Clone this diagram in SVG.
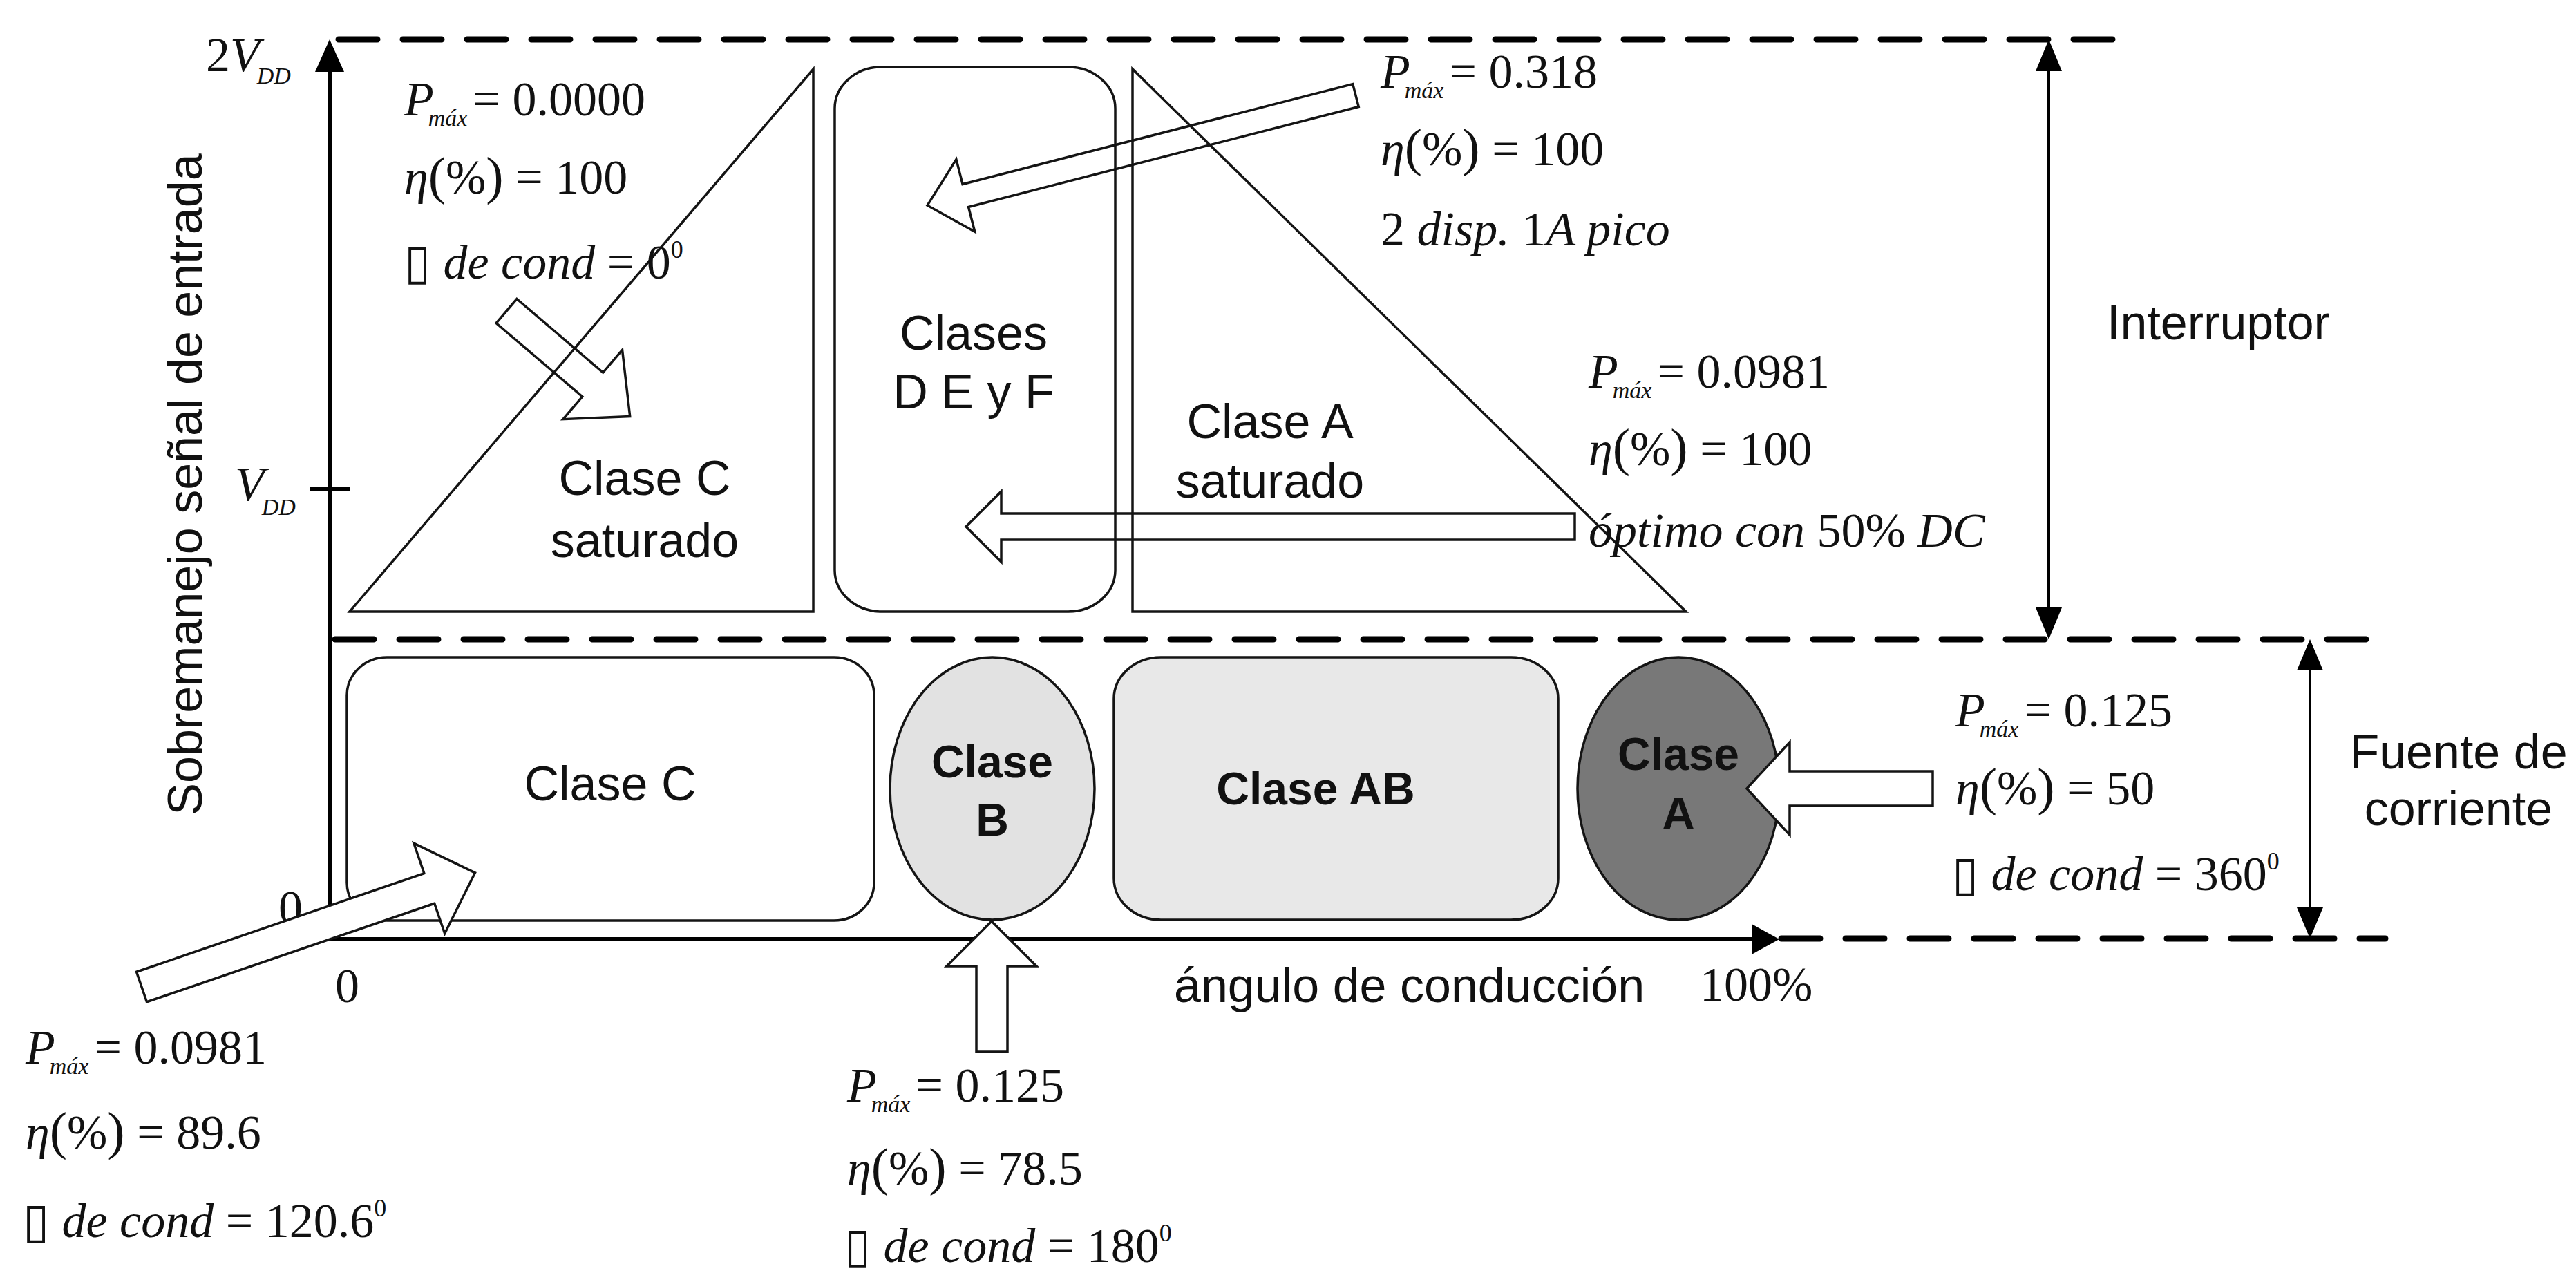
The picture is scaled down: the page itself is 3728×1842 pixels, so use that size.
<svg xmlns="http://www.w3.org/2000/svg" width="3728" height="1842" viewBox="0 0 3728 1842">
<style>
.bg{fill:#ffffff}
.open{fill:none;stroke:#141414;stroke-width:3.5;stroke-linejoin:miter}
.barrow{fill:#ffffff;stroke:#141414;stroke-width:3.5;stroke-linejoin:miter}
.tarrow{fill:none;stroke:#141414;stroke-width:3.5;stroke-linejoin:miter}
.axis{fill:none;stroke:#000;stroke-width:6}
.dash{fill:none;stroke:#000;stroke-width:9;stroke-dasharray:56 37;stroke-linecap:round}
.thin{fill:none;stroke:#000;stroke-width:4}
.head{fill:#000;stroke:none}
.lbl{font-family:"Liberation Sans",Arial,sans-serif;font-size:70px;fill:#111}
.lblb{font-family:"Liberation Sans",Arial,sans-serif;font-size:66px;font-weight:bold;fill:#111}
.m{font-family:"Liberation Serif","Times New Roman",serif;font-size:70px;fill:#111}
.i{font-style:italic}
.sub{font-size:34px;font-style:italic}
.sup{font-size:36px}
.par{font-size:76px}
.box{font-family:"DejaVu Sans",sans-serif;font-size:70px}
</style>
<rect class="bg" x="0" y="0" width="3728" height="1842"/>

<g id="guides">
<line class="dash" x1="490" y1="57" x2="3061" y2="57"/>
<line class="dash" x1="485" y1="925" x2="3443" y2="925"/>
<line class="dash" x1="2578" y1="1358" x2="3452" y2="1358"/>
</g>

<g id="node-clase-c-saturado">
<polygon class="open" points="506,885 1177,100 1177,885"/>
<text class="lbl" x="933" y="716" text-anchor="middle">Clase C</text>
<text class="lbl" x="933" y="806" text-anchor="middle">saturado</text>
</g>

<g id="node-clases-def">
<rect class="open" x="1208" y="97" width="406" height="788" rx="68" ry="60"/>
<text class="lbl" x="1409" y="506" text-anchor="middle">Clases</text>
<text class="lbl" x="1409" y="591" text-anchor="middle">D E y F</text>
</g>

<g id="node-clase-a-saturado">
<polygon class="open" points="1639,100 1639,885 2440,885"/>
<text class="lbl" x="1838" y="634" text-anchor="middle">Clase A</text>
<text class="lbl" x="1838" y="720" text-anchor="middle">saturado</text>
</g>

<g id="node-clase-c">
<rect class="open" x="502" y="951" width="763" height="381" rx="58" ry="55"/>
<text class="lbl" x="883" y="1158" text-anchor="middle">Clase C</text>
</g>

<g id="node-clase-b">
<ellipse cx="1436" cy="1141" rx="148" ry="190" fill="#e2e2e2" stroke="#141414" stroke-width="3.5"/>
<text class="lblb" x="1436" y="1125" text-anchor="middle">Clase</text>
<text class="lblb" x="1436" y="1209" text-anchor="middle">B</text>
</g>

<g id="node-clase-ab">
<rect x="1612" y="951" width="643" height="380" rx="68" ry="60" fill="#e8e8e8" stroke="#141414" stroke-width="3.5"/>
<text class="lblb" x="1904" y="1164" text-anchor="middle">Clase AB</text>
</g>

<g id="node-clase-a">
<ellipse cx="2429" cy="1141" rx="146" ry="190" fill="#787878" stroke="#141414" stroke-width="3.5"/>
<text class="lblb" x="2429" y="1114" text-anchor="middle">Clase</text>
<text class="lblb" x="2429" y="1200" text-anchor="middle">A</text>
</g>

<g id="axes">
<line class="axis" x1="477" y1="95" x2="477" y2="1362"/>
<polygon class="head" points="477,57 456,104 498,104"/>
<line class="axis" x1="448" y1="708" x2="506" y2="708"/>
<line class="axis" x1="474" y1="1359" x2="2545" y2="1359"/>
<polygon class="head" points="2575,1359 2535,1337 2535,1381"/>
<text class="lbl" transform="translate(292,701) rotate(-90)" text-anchor="middle" font-size="71">Sobremanejo señal de entrada</text>
<text class="lbl" x="1699" y="1450">ángulo de conducción</text>
<text class="m" x="298" y="103">2<tspan class="i">V</tspan><tspan class="sub" dx="-4" dy="18">DD</tspan></text>
<text class="m" x="340" y="724"><tspan class="i">V</tspan><tspan class="sub" dx="-4" dy="21">DD</tspan></text>
<text class="m" x="403" y="1337">0</text>
<text class="m" x="485" y="1450">0</text>
<text class="m" x="2460" y="1448">100%</text>
</g>

<g id="ranges">
<line class="thin" x1="2965" y1="90" x2="2965" y2="890"/>
<polygon class="head" points="2965,57 2946,103 2984,103"/>
<polygon class="head" points="2965,925 2946,879 2984,879"/>
<text class="lbl" x="3049" y="491">Interruptor</text>
<line class="thin" x1="3343" y1="960" x2="3343" y2="1325"/>
<polygon class="head" points="3343,925 3324,970 3362,970"/>
<polygon class="head" points="3343,1358 3324,1313 3362,1313"/>
<text class="lbl" x="3558" y="1112" text-anchor="middle">Fuente de</text>
<text class="lbl" x="3558" y="1194" text-anchor="middle">corriente</text>
</g>

<g id="connectors">
<polygon class="tarrow" points="0,-23 164,-23 164,-66 235,0 164,66 164,23 0,23" transform="translate(733,450) rotate(40.5)"/>
<polygon class="tarrow" points="0,-17 583,-17 583,-54 640,0 583,54 583,17 0,17" transform="translate(1962,138) rotate(165.6)"/>
<polygon class="tarrow" points="2279,743 1449,743 1449,711 1398,762 1449,813 1449,781 2279,781"/>
<polygon class="barrow" points="0,-23 440,-23 440,-69 510,0 440,69 440,23 0,23" transform="translate(205,1428) rotate(-18.9)"/>
<polygon class="barrow" points="1413,1522 1413,1398 1370,1398 1435,1333 1500,1398 1458,1398 1458,1522"/>
<polygon class="barrow" points="2797,1116 2590,1116 2590,1074 2528,1141 2590,1208 2590,1166 2797,1166"/>
</g>

<g id="note-clase-c-saturado">
<text class="m" x="585" y="167"><tspan class="i">P</tspan><tspan class="sub" dx="-8" dy="15">máx</tspan><tspan dy="-15" dx="8">= 0.0000</tspan></text>
<text class="m" x="585" y="280"><tspan class="i">η</tspan><tspan class="par">(</tspan>%<tspan class="par">)</tspan> = 100</text>
<text class="m" x="585" y="403"><tspan class="box">▯</tspan><tspan class="i" dx="18">de cond</tspan> = 0<tspan class="sup" dy="-30">0</tspan></text>
</g>

<g id="note-clases-def">
<text class="m" x="1998" y="127"><tspan class="i">P</tspan><tspan class="sub" dx="-8" dy="15">máx</tspan><tspan dy="-15" dx="8">= 0.318</tspan></text>
<text class="m" x="1998" y="239"><tspan class="i">η</tspan><tspan class="par">(</tspan>%<tspan class="par">)</tspan> = 100</text>
<text class="m" x="1998" y="355">2<tspan class="i"> disp.</tspan> 1<tspan class="i">A pico</tspan></text>
</g>

<g id="note-clase-a-saturado">
<text class="m" x="2299" y="561"><tspan class="i">P</tspan><tspan class="sub" dx="-8" dy="15">máx</tspan><tspan dy="-15" dx="8">= 0.0981</tspan></text>
<text class="m" x="2299" y="673"><tspan class="i">η</tspan><tspan class="par">(</tspan>%<tspan class="par">)</tspan> = 100</text>
<text class="m" x="2299" y="791"><tspan class="i">óptimo con </tspan>50%<tspan class="i"> DC</tspan></text>
</g>

<g id="note-clase-a">
<text class="m" x="2830" y="1051"><tspan class="i">P</tspan><tspan class="sub" dx="-8" dy="15">máx</tspan><tspan dy="-15" dx="8">= 0.125</tspan></text>
<text class="m" x="2830" y="1164"><tspan class="i">η</tspan><tspan class="par">(</tspan>%<tspan class="par">)</tspan> = 50</text>
<text class="m" x="2825" y="1288"><tspan class="box">▯</tspan><tspan class="i" dx="18">de cond</tspan> = 360<tspan class="sup" dy="-30">0</tspan></text>
</g>

<g id="note-clase-b">
<text class="m" x="1226" y="1594"><tspan class="i">P</tspan><tspan class="sub" dx="-8" dy="15">máx</tspan><tspan dy="-15" dx="8">= 0.125</tspan></text>
<text class="m" x="1226" y="1714"><tspan class="i">η</tspan><tspan class="par">(</tspan>%<tspan class="par">)</tspan> = 78.5</text>
<text class="m" x="1222" y="1826"><tspan class="box">▯</tspan><tspan class="i" dx="18">de cond</tspan> = 180<tspan class="sup" dy="-30">0</tspan></text>
</g>

<g id="note-clase-c">
<text class="m" x="37" y="1539"><tspan class="i">P</tspan><tspan class="sub" dx="-8" dy="15">máx</tspan><tspan dy="-15" dx="8">= 0.0981</tspan></text>
<text class="m" x="37" y="1662"><tspan class="i">η</tspan><tspan class="par">(</tspan>%<tspan class="par">)</tspan> = 89.6</text>
<text class="m" x="33" y="1790"><tspan class="box">▯</tspan><tspan class="i" dx="18">de cond</tspan> = 120.6<tspan class="sup" dy="-30">0</tspan></text>
</g>
</svg>
